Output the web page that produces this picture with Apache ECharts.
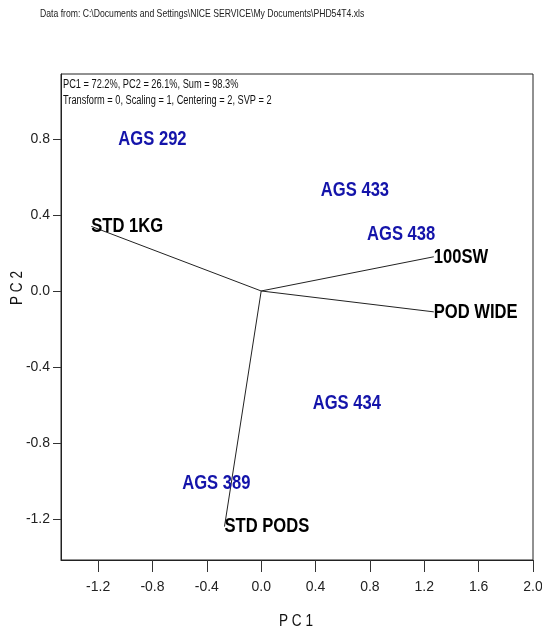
<!DOCTYPE html>
<html>
<head>
<meta charset="utf-8">
<script src="https://cdn.jsdelivr.net/npm/echarts@6/dist/echarts.min.js"></script>
<style>
  html, body { margin: 0; padding: 0; background: #fff; }
  #chart { width: 542px; height: 632px; }
</style>
</head>
<body>
<div id="chart"></div>
<script>
// Genotype scores (PC1, PC2)
const genotypes = ['AGS 292', 'AGS 433', 'AGS 438', 'AGS 434', 'AGS 389'];
const genoPC1 = [-0.80, 0.69, 1.03, 0.63, -0.33];
const genoPC2 = [0.80, 0.53, 0.30, -0.59, -1.01];

// Trait vectors (PC1, PC2)
const traits = ['STD 1KG', '100SW', 'POD WIDE', 'STD PODS'];
const traitPC1 = [-1.25, 1.27, 1.27, -0.27];
const traitPC2 = [0.34, 0.18, -0.11, -1.24];

// Axis tick labels
const xTicks = [-1.2, -0.8, -0.4, 0.0, 0.4, 0.8, 1.2, 1.6, 2.0];
const yTicks = [-1.2, -0.8, -0.4, 0.0, 0.4, 0.8];

const sourceText = 'Data from: C:\\Documents and Settings\\NICE SERVICE\\My Documents\\PHD54T4.xls';
const infoLines = ['PC1 = 72.2%, PC2 = 26.1%, Sum = 98.3%', 'Transform = 0, Scaling = 1, Centering = 2, SVP = 2'];

const sans = '"Liberation Sans", Arial, sans-serif';
// horizontal squeeze that gives the tall, narrow lettering
const SQUEEZE = 0.79;

const chart = echarts.init(document.getElementById('chart'), null, { renderer: 'canvas' });

const vectorSeries = traits.map((name, i) => ({
  type: 'line',
  name: name,
  data: [[0, 0], [traitPC1[i], traitPC2[i]]],
  symbol: 'none',
  silent: true,
  lineStyle: { color: '#222', width: 1 },
  z: 2
}));

// text marks placed through the cartesian coordinate system
function labelSeries(names, xs, ys, align, color) {
  return {
    type: 'custom',
    coordinateSystem: 'cartesian2d',
    silent: true,
    z: 3,
    data: names.map((n, i) => [xs[i], ys[i]]),
    renderItem: (params, api) => {
      const pt = api.coord([api.value(0), api.value(1)]);
      return {
        type: 'text',
        x: pt[0], y: pt[1],
        scaleX: SQUEEZE,
        style: {
          text: names[params.dataIndex],
          font: 'bold 21px ' + sans,
          fill: color,
          align: align,
          verticalAlign: 'middle'
        }
      };
    }
  };
}

chart.setOption({
  animation: false,
  backgroundColor: '#fff',
  grid: {
    left: 61, right: 9, top: 74, bottom: 72,
    outerBoundsMode: 'none',
    containLabel: false,
    show: true, borderColor: '#222', borderWidth: 1, backgroundColor: 'transparent'
  },
  xAxis: {
    type: 'value',
    min: -1.473, max: 2.0,
    axisLine: { onZero: false, lineStyle: { color: '#222', width: 1 } },
    axisTick: { show: true, length: 12, customValues: xTicks, lineStyle: { color: '#333' } },
    axisLabel: {
      customValues: xTicks, margin: 20,
      fontFamily: sans, fontSize: 14, color: '#222',
      formatter: v => v.toFixed(1)
    },
    splitLine: { show: false }
  },
  yAxis: {
    type: 'value',
    min: -1.416, max: 1.142,
    axisLine: { onZero: false, lineStyle: { color: '#222', width: 1 } },
    axisTick: { show: true, length: 8, customValues: yTicks, lineStyle: { color: '#333' } },
    axisLabel: {
      customValues: yTicks, margin: 11,
      fontFamily: sans, fontSize: 14, color: '#222',
      formatter: v => v.toFixed(1)
    },
    splitLine: { show: false }
  },
  graphic: [
    {
      type: 'text', x: 40, y: 14, scaleX: 0.785,
      style: { text: sourceText, font: '11px ' + sans, fill: '#222', verticalAlign: 'middle' }
    },
    {
      type: 'text', x: 63, y: 85, scaleX: 0.77,
      style: { text: infoLines[0], font: '12px ' + sans, fill: '#111', verticalAlign: 'middle' }
    },
    {
      type: 'text', x: 63, y: 101, scaleX: 0.77,
      style: { text: infoLines[1], font: '12px ' + sans, fill: '#111', verticalAlign: 'middle' }
    },
    {
      type: 'text', x: 296, y: 621, scaleX: 0.8,
      style: { text: 'P C 1', font: '17px ' + sans, fill: '#111', align: 'center', verticalAlign: 'middle' }
    },
    {
      type: 'text', x: 17, y: 288, rotation: Math.PI / 2, scaleX: 0.8,
      style: { text: 'P C 2', font: '17px ' + sans, fill: '#111', align: 'center', verticalAlign: 'middle' }
    }
  ],
  series: [
    ...vectorSeries,
    labelSeries(traits, traitPC1, traitPC2, 'left', '#000'),
    labelSeries(genotypes, genoPC1, genoPC2, 'center', '#1414aa')
  ]
});
</script>
</body>
</html>
